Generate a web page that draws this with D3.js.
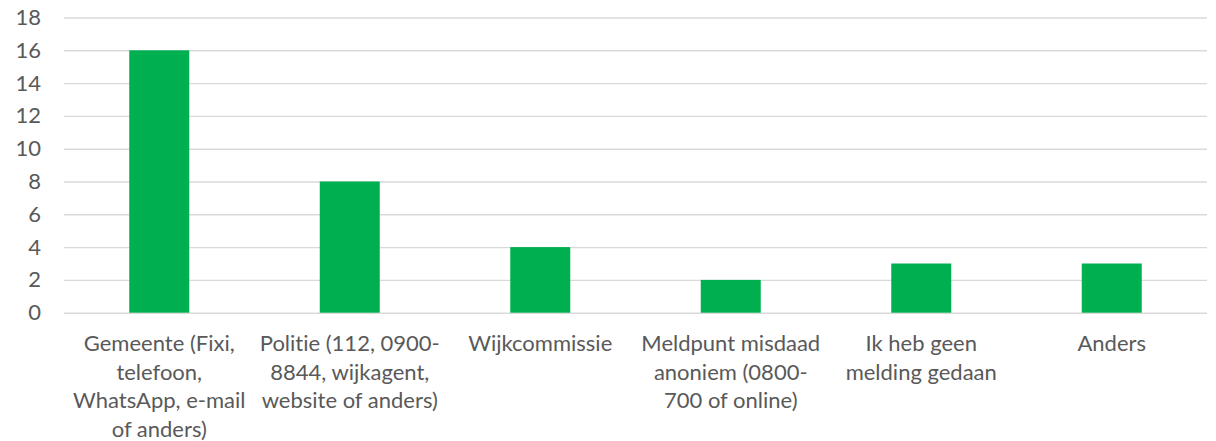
<!DOCTYPE html>
<html>
<head>
<meta charset="utf-8">
<script src="https://cdn.jsdelivr.net/npm/d3@7"></script>
<style>
  body { margin: 0; background: #fff; }
  text { font-family: Lato, "Open Sans", sans-serif; fill: #595959; font-variant-ligatures: none; }
</style>
</head>
<body>
<svg id="chart" width="1216" height="441"></svg>
<script>
// categorieën (met regeleinden zoals in het origineel)
const categories = [
  "Gemeente (Fixi,\ntelefoon,\nWhatsApp, e-mail\nof anders)",
  "Politie (112, 0900-\n8844, wijkagent,\nwebsite of anders)",
  "Wijkcommissie",
  "Meldpunt misdaad\nanoniem (0800-\n700 of online)",
  "Ik heb geen\nmelding gedaan",
  "Anders"
];
const values = [16, 8, 4, 2, 3, 3];
const yTicks = [0, 2, 4, 6, 8, 10, 12, 14, 16, 18];

const svg = d3.select('#chart');
const plotLeft = 64, plotRight = 1207, plotTop = 17.5, plotBottom = 312.7;

const x = d3.scaleBand()
    .domain(categories)
    .range([plotLeft, plotRight])
    .paddingInner(0.685)
    .paddingOuter(0.3425);

const y = d3.scaleLinear()
    .domain([0, 18])
    .range([plotBottom, plotTop]);

// rasterlijnen + y-labels
const yAxis = svg.append('g')
    .attr('transform', `translate(${plotLeft},0)`)
    .call(d3.axisLeft(y).tickValues(yTicks).tickSize(-(plotRight - plotLeft)).tickPadding(23));

yAxis.select('.domain').remove();
yAxis.selectAll('line').attr('stroke', '#d9d9d9').attr('stroke-width', 1.4);
yAxis.selectAll('text')
    .style('font-size', '22px')
    .attr('fill', '#595959');

// staven
svg.append('g').selectAll('rect')
    .data(values)
    .enter()
    .append('rect')
    .attr('x', function(d, i) { return x(categories[i]); })
    .attr('y', function(d) { return y(d); })
    .attr('width', x.bandwidth())
    .attr('height', function(d) { return y(0) - y(d); })
    .attr('fill', '#00b050');

// categorie-labels
const labels = svg.append('g').selectAll('text')
    .data(categories)
    .enter()
    .append('text')
    .attr('text-anchor', 'middle')
    .style('font-size', '22px');

labels.each(function(c) {
    const cx = x(c) + x.bandwidth() / 2;
    d3.select(this).selectAll('tspan')
        .data(c.split('\n'))
        .enter()
        .append('tspan')
        .attr('x', cx)
        .attr('y', function(d, i) { return 351 + i * 28.5; })
        .text(function(d) { return d; });
});
</script>
</body>
</html>
